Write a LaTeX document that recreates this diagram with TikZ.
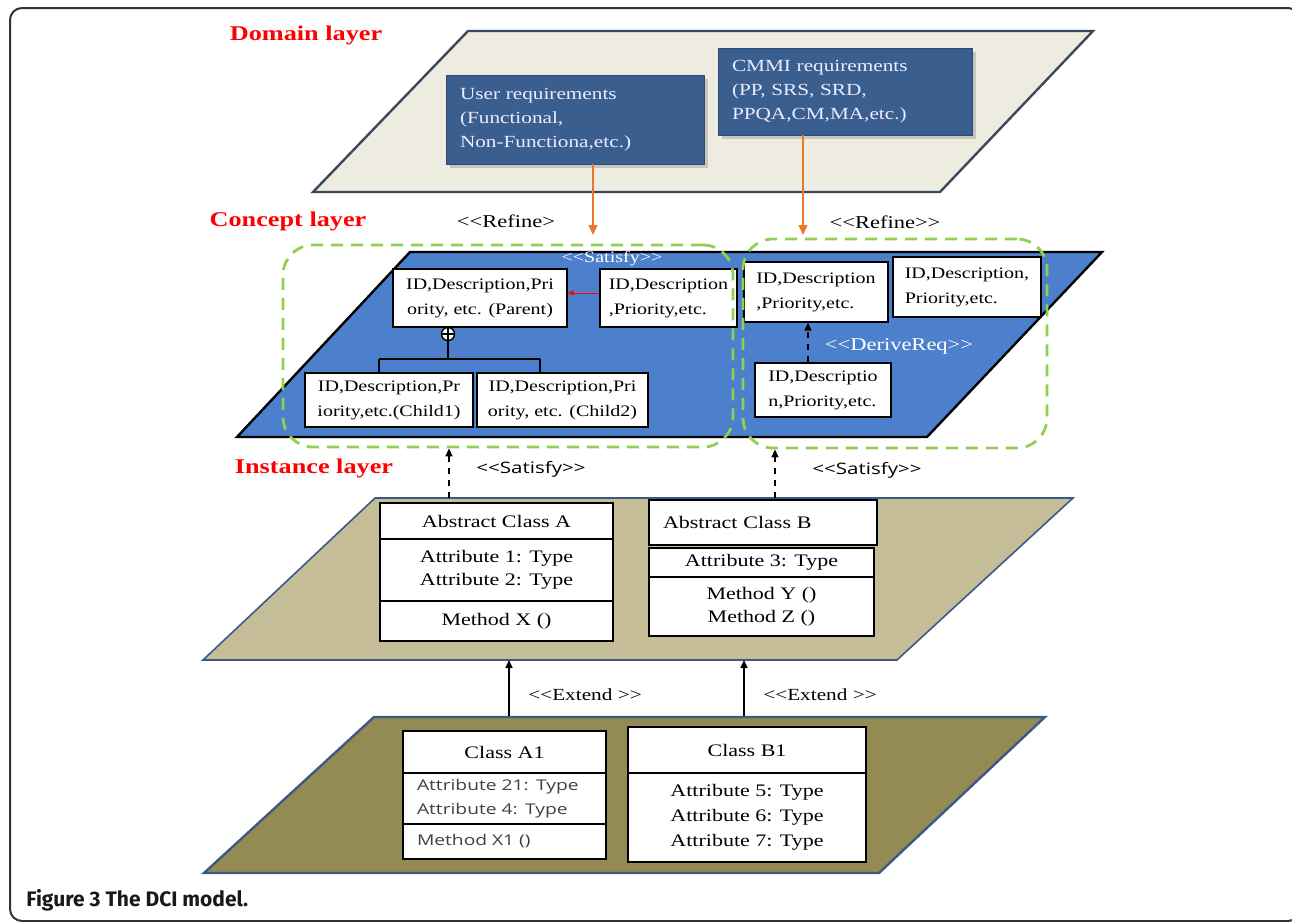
\documentclass[tikz,border=0pt]{standalone}
\usepackage{fontspec}
\setmainfont{Liberation Serif}[FakeStretch=1.25]
\newfontfamily\tagsans{Open Sans}[FakeStretch=1.3]
\newfontfamily\capsans{Fira Sans}
\usepackage{tikz}
\usetikzlibrary{arrows.meta}
\usetikzlibrary{shadows}

\definecolor{domainfill}{HTML}{EEECE1}
\definecolor{domainline}{HTML}{3A4A5E}
\definecolor{reqblue}{HTML}{3A5F8F}
\definecolor{conceptblue}{HTML}{4C80CC}
\definecolor{instfill}{HTML}{C4BD97}
\definecolor{basefill}{HTML}{948A54}
\definecolor{planeline}{HTML}{3B5A85}
\definecolor{groupgreen}{HTML}{92CF50}
\definecolor{refineorange}{HTML}{E8782A}
\definecolor{frameline}{HTML}{333333}

\tikzset{
  layerlbl/.style={text=red, inner sep=0pt, font=\bfseries\fontsize{10.5}{12}\selectfont},
  reqbox/.style={fill=reqblue, draw=reqblue!80!black, text=white!92!blue, align=left,
    inner xsep=7pt, inner ysep=0pt, font=\fontsize{8.5}{12}\selectfont,
    drop shadow={shadow xshift=2pt, shadow yshift=-2pt, opacity=.35}},
  idbox/.style={draw=black, fill=white, align=center, inner sep=0pt, line width=.6pt,
    font=\fontsize{8}{12.5}\selectfont},
  umlbox/.style={draw=black, fill=white, align=center, inner sep=0pt, line width=.7pt,
    font=\fontsize{8.8}{11.5}\selectfont},
  satisfygroup/.style={draw=groupgreen, line width=1.4pt, dash pattern=on 6pt off 4pt,
    rounded corners=15pt, inner sep=0pt},
  refinearrow/.style={draw=refineorange, line width=.7pt, -{Triangle[length=5pt,width=4.5pt]}},
  satisfyarrow/.style={draw=black, line width=.8pt, dashed, -{Triangle[length=4pt,width=3.5pt]}},
  extendarrow/.style={draw=black, line width=.8pt, -{Triangle[length=4pt,width=3.5pt]}},
  stereotag/.style={inner sep=0pt, font=\fontsize{9}{10}\selectfont},
  sanstag/.style={inner sep=0pt, font=\tagsans\fontsize{7.9}{9}\selectfont},
}

\begin{document}
\begin{tikzpicture}[x=0.5pt, y=-0.5pt]
\clip (0,0) rectangle (1292,922);
\draw[frameline, line width=1pt, rounded corners=6pt] (10,8) rectangle (1300,921);

\filldraw[fill=domainfill, draw=domainline, line width=1.2pt] (468,31) -- (1093,31) -- (940,192) -- (313,192) -- cycle;
\node[layerlbl] (domainlbl) at (306,35) {Domain layer};
\node[reqbox, minimum width=129pt, minimum height=44.5pt, text width=115pt] (userreq) at (575,119.5)
  {User requirements\\(Functional,\\Non-Functiona,etc.)};
\node[reqbox, minimum width=127pt, minimum height=43.5pt, text width=113pt] (cmmireq) at (845,91.5)
  {CMMI requirements\\(PP, SRS, SRD,\\PPQA,CM,MA,etc.)};

\node[layerlbl] (conceptlbl) at (288,221) {Concept layer};
\node[stereotag] (refinetagA) at (506,221) {<{}<Refine>};
\node[stereotag] (refinetagB) at (885,222) {<{}<Refine>{}>};
\coordinate (refineA) at (593,235);
\coordinate (refineB) at (803,235);
\draw[refinearrow] (userreq.south -| refineA) -- (refineA);
\draw[refinearrow] (cmmireq.south -| refineB) -- (refineB);

\filldraw[fill=conceptblue, draw=black, line width=1.2pt] (410,252) -- (1102,252) -- (927,437) -- (237,437) -- cycle;
\node[idbox, minimum width=87pt, minimum height=29pt] (parent) at (480,298) {ID,Description,Pri\\ority, etc. (Parent)};
\node[idbox, minimum width=68.5pt, minimum height=29pt, align=left] (sibling) at (668.5,298) {ID,Description\\,Priority,etc.};
\node[idbox, minimum width=84pt, minimum height=27pt] (child1) at (389,400) {ID,Description,Pr\\iority,etc.(Child1)};
\node[idbox, minimum width=85.5pt, minimum height=27pt] (child2) at (562.5,400) {ID,Description,Pri\\ority, etc. (Child2)};
\node[idbox, minimum width=72pt, minimum height=30pt, align=left] (refinedA) at (816,292) {ID,Description\\,Priority,etc.};
\node[idbox, minimum width=74pt, minimum height=30pt, align=left] (refinedB) at (967,287) {ID,Description,\\Priority,etc.};
\node[idbox, minimum width=68pt, minimum height=27pt, align=left] (derived) at (823,390) {ID,Descriptio\\n,Priority,etc.};

\node[draw, circle, fill=white, inner sep=0pt, minimum size=6.5pt, line width=.7pt,
  path picture={\draw[line width=.7pt] (path picture bounding box.north) -- (path picture bounding box.south)
    (path picture bounding box.west) -- (path picture bounding box.east);}] (xorplus) at (448,334) {};
\coordinate (forkL) at (379,359);
\coordinate (forkR) at (540,359);
\draw[line width=.6pt] (xorplus.north) -- (xorplus.north |- parent.south);
\draw[line width=.6pt] (xorplus.south) -- (xorplus.south |- forkL);
\draw[line width=.6pt] (forkL) -- (forkR);
\draw[line width=.6pt] (forkL) -- (forkL |- child1.north);
\draw[line width=.6pt] (forkR) -- (forkR |- child2.north);

\draw[red, line width=.5pt, -{Triangle[length=3pt,width=2.5pt]}] ([yshift=2.5pt]sibling.west) -- ([yshift=2.5pt]parent.east);
\draw[black, line width=.7pt, dashed, -{Triangle[length=4pt,width=3.5pt]}] ([xshift=-7.5pt]derived.north) -- ([xshift=-7.5pt]derived.north |- refinedA.south);
\node[stereotag, text=white, font=\fontsize{8}{9}\selectfont] (satisfytag) at (612,259) {<{}<Satisfy>{}>};
\node[stereotag, text=white] (derivetag) at (899,346) {<{}<DeriveReq>{}>};

\node[satisfygroup, minimum width=225pt, minimum height=101pt] (groupL) at (508,346) {};
\node[satisfygroup, minimum width=152pt, minimum height=104.5pt] (groupR) at (895,343.5) {};

\node[layerlbl] (instlbl) at (314,468) {Instance layer};
\filldraw[fill=instfill, draw=planeline, line width=.8pt] (375,498) -- (1073,498) -- (897,660) -- (203,660) -- cycle;
\node[umlbox, minimum width=116.5pt, minimum height=18pt] (absAname) at (496.5,521) {Abstract Class A};
\node[umlbox, minimum width=116.5pt, minimum height=31pt] (absAattr) at (496.5,570) {Attribute 1: Type\\Attribute 2: Type};
\node[umlbox, minimum width=116.5pt, minimum height=20pt] (absAop) at (496.5,621) {Method X ()};
\node[umlbox, minimum width=114pt, minimum height=22.5pt, align=left, text width=100pt, inner xsep=7pt] (absBname) at (763,522.5) {Abstract Class B};
\node[umlbox, minimum width=112.5pt, minimum height=14.5pt] (absBattr) at (761.5,562.5) {Attribute 3: Type};
\node[umlbox, minimum width=112.5pt, minimum height=29.5pt] (absBop) at (761.5,606.5) {Method Y ()\\Method Z ()};

\coordinate (satA) at (449,498);
\coordinate (satB) at (775,498);
\draw[satisfyarrow] (satA) -- (satA |- groupL.south);
\draw[satisfyarrow] (satB) -- (satB |- groupR.south);
\node[sanstag] (satisfytagA) at (531,469) {<{}<Satisfy>{}>};
\node[sanstag] (satisfytagB) at (867,470) {<{}<Satisfy>{}>};

\foreach \x/\n in {509/A, 744/B} {
  \coordinate (ext\n) at (\x,717);
  \draw[extendarrow] (ext\n) -- ++(0,-57);
}
\node[stereotag, font=\fontsize{8.5}{10}\selectfont] (extendtagA) at (585,695) {<{}<Extend >{}>};
\node[stereotag, font=\fontsize{8.5}{10}\selectfont] (extendtagB) at (820,695) {<{}<Extend >{}>};

\filldraw[fill=basefill, draw=planeline, line width=1.2pt] (374,717) -- (1045,717) -- (879,873) -- (204,873) -- cycle;
\node[umlbox, minimum width=101.5pt, minimum height=21pt] (clsAname) at (504.5,752) {Class A1};
\node[umlbox, minimum width=101.5pt, minimum height=25.5pt, align=left, text width=87.5pt, inner xsep=7pt,
  text=black!75, font=\tagsans\fontsize{7.4}{12}\selectfont] (clsAattr) at (504.5,798.5) {Attribute 21: Type\\Attribute 4: Type};
\node[umlbox, minimum width=101.5pt, minimum height=17.5pt, align=left, text width=87.5pt, inner xsep=7pt,
  text=black!75, font=\tagsans\fontsize{7.4}{9}\selectfont] (clsAop) at (504.5,841.5) {Method X1 ()};
\node[umlbox, minimum width=119pt, minimum height=23pt] (clsBname) at (747,750) {Class B1};
\node[umlbox, minimum width=119pt, minimum height=44.5pt, font=\fontsize{8.8}{12.5}\selectfont] (clsBattr) at (747,817.5)
  {Attribute 5: Type\\Attribute 6: Type\\Attribute 7: Type};

\node[anchor=west, inner sep=0pt, text=black!90, font=\capsans\bfseries\fontsize{10.5}{12}\selectfont] (caption) at (26,900)
  {Figure 3 The DCI model.};
\end{tikzpicture}
\end{document}
